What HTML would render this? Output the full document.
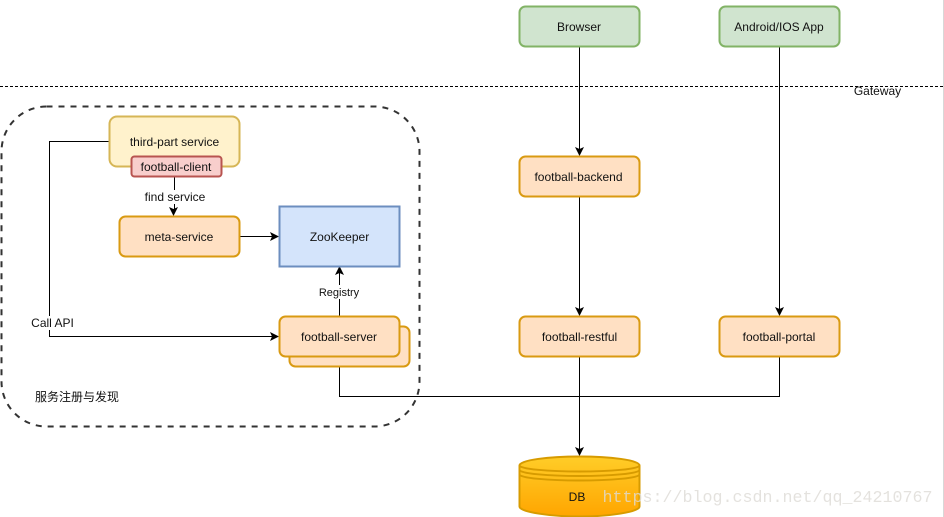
<!DOCTYPE html>
<html>
<head>
<meta charset="utf-8">
<style>
html,body{margin:0;padding:0;background:#fff;width:944px;height:517px;overflow:hidden}
svg{display:block}
text{font-family:"Liberation Sans","Noto Sans CJK SC",sans-serif;font-size:12px;fill:#111;text-anchor:middle}
.o{fill:#ffe0c3;stroke:#d99a12;stroke-width:2}
.g{fill:#d0e4cf;stroke:#82b366;stroke-width:2}
.l{fill:none;stroke:#000;stroke-width:1}
</style>
</head>
<body>
<svg width="944" height="517" viewBox="0 0 944 517" xmlns="http://www.w3.org/2000/svg">
<defs>
<linearGradient id="db" x1="0" y1="0" x2="0" y2="1">
<stop offset="0" stop-color="#ffcd28"/>
<stop offset="1" stop-color="#ffa500"/>
</linearGradient>
</defs>
<rect x="0" y="0" width="944" height="517" fill="#fff"/>
<rect x="943" y="0" width="1" height="517" fill="#d8d8d8"/>

<!-- gateway line -->
<path d="M0 86.5H943" fill="none" stroke="#000" stroke-width="1" stroke-dasharray="3 2"/>
<text x="877.500" y="95">Gateway</text>

<!-- dashed group -->
<rect x="1.500" y="106.500" width="418" height="320" rx="45" ry="45" fill="none" stroke="#333" stroke-width="2" stroke-dasharray="6 6"/>

<!-- connectors -->
<path class="l" d="M579.500 46V150"/>
<path d="M579.500 156l-4.500 -9 4.500 2 4.500 -2z" fill="#000"/>
<path class="l" d="M579.500 196V310"/>
<path d="M579.500 316l-4.500 -9 4.500 2 4.500 -2z" fill="#000"/>
<path class="l" d="M579.500 356V450"/>
<path d="M579.500 456l-4.500 -9 4.500 2 4.500 -2z" fill="#000"/>
<path class="l" d="M779.500 46V310"/>
<path d="M779.500 316l-4.500 -9 4.500 2 4.500 -2z" fill="#000"/>
<path class="l" d="M779.500 356V396.500H339.500V356"/>
<path class="l" d="M109 141.500H49.500V336.500H273"/>
<path d="M279 336.500l-9 -4.500 2 4.500 -2 4.500z" fill="#000"/>
<path class="l" d="M239 236.500H273"/>
<path d="M279 236.500l-9 -4.500 2 4.500 -2 4.500z" fill="#000"/>
<path class="l" d="M339.500 316V272"/>
<path d="M339.500 266l-4.500 9 4.500 -2 4.500 2z" fill="#000"/>
<path class="l" d="M174.500 176V211"/>
<path d="M173.500 216l-4.500 -9 4.500 2 4.500 -2z" fill="#000"/>

<!-- labels on lines -->
<rect x="30" y="316" width="45" height="14" fill="#fff"/>
<text x="52.500" y="327">Call API</text>
<rect x="143" y="190" width="64" height="14" fill="#fff"/>
<text x="175" y="201">find service</text>
<rect x="318" y="285" width="43" height="14" fill="#fff"/>
<text x="339" y="296" style="font-size:11px">Registry</text>

<!-- nodes -->
<rect class="g" x="519.500" y="6.500" width="120" height="40" rx="6"/>
<text x="579" y="31">Browser</text>
<rect class="g" x="719.500" y="6.500" width="120" height="40" rx="6"/>
<text x="779" y="31">Android/IOS App</text>

<rect class="o" x="519.500" y="156.500" width="120" height="40" rx="6"/>
<text x="578.500" y="181">football-backend</text>
<rect class="o" x="519.500" y="316.500" width="120" height="40" rx="6"/>
<text x="579.500" y="341">football-restful</text>
<rect class="o" x="719.500" y="316.500" width="120" height="40" rx="6"/>
<text x="779" y="341">football-portal</text>

<rect x="109.500" y="116.500" width="130" height="50" rx="7.500" fill="#fff2cc" stroke="#d6b656" stroke-width="2"/>
<text x="174.500" y="146">third-part service</text>
<rect x="131.500" y="156.500" width="90" height="20" rx="3" fill="#f8cecc" stroke="#b85450" stroke-width="2"/>
<text x="176" y="171">football-client</text>
<rect class="o" x="119.500" y="216.500" width="120" height="40" rx="6"/>
<text x="179" y="241">meta-service</text>
<rect x="279.500" y="206.500" width="120" height="60" fill="#d4e4fb" stroke="#6c8ebf" stroke-width="2"/>
<text x="339.500" y="241">ZooKeeper</text>

<rect class="o" x="289.500" y="326.500" width="120" height="40" rx="6"/>
<rect class="o" x="279.500" y="316.500" width="120" height="40" rx="6"/>
<text x="339" y="341">football-server</text>

<text x="77" y="401">服务注册与发现</text>

<!-- DB -->
<path d="M519.500 465.500C519.500 460 549 456.500 579.500 456.500S639.500 460 639.500 465.500V506.500C639.500 512 609 516.500 579.500 516.500S519.500 512 519.500 506.500Z" fill="url(#db)" stroke="#d79b00" stroke-width="2"/>
<path d="M519.500 465.500C519.500 469 549 471.500 579.500 471.500S639.500 469 639.500 465.500" fill="none" stroke="#d79b00" stroke-width="2"/>
<path d="M519.500 470C519.500 473.500 549 476 579.500 476S639.500 473.500 639.500 470" fill="none" stroke="#d79b00" stroke-width="2"/>
<path d="M519.500 474.500C519.500 478 549 480.500 579.500 480.500S639.500 478 639.500 474.500" fill="none" stroke="#d79b00" stroke-width="2"/>
<text x="577" y="501">DB</text>

<!-- watermark -->
<text x="767.500" y="502" textLength="330" lengthAdjust="spacingAndGlyphs" style="font-family:'Liberation Mono',monospace;font-size:16.500px;fill:#dedbd6;text-anchor:middle;opacity:.8">https://blog.csdn.net/qq_24210767</text>
</svg>
</body>
</html>
